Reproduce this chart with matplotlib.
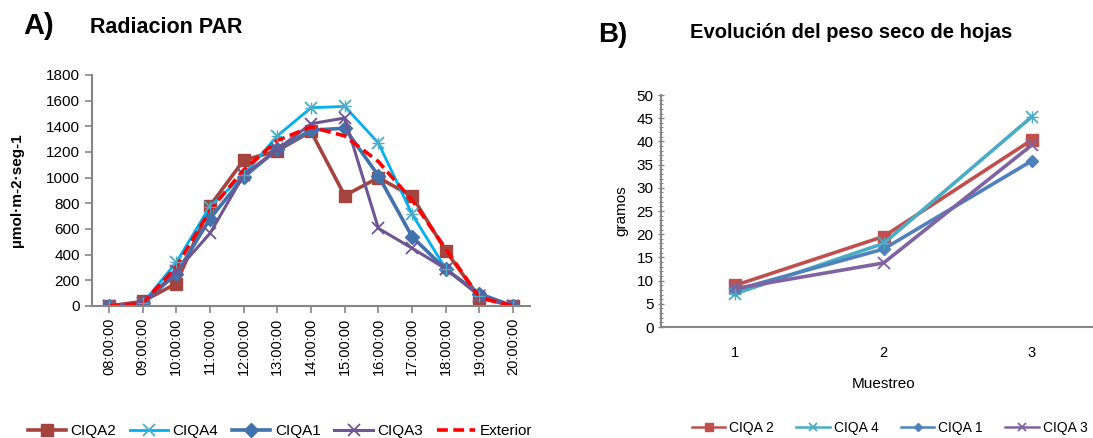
import matplotlib
matplotlib.use("Agg")
import matplotlib.pyplot as plt
from matplotlib.ticker import MultipleLocator

plt.rcParams["font.family"] = ["Liberation Sans", "DejaVu Sans"]

# Panel A: radiacion PAR
horas = ["08:00:00", "09:00:00", "10:00:00", "11:00:00", "12:00:00", "13:00:00", "14:00:00",
         "15:00:00", "16:00:00", "17:00:00", "18:00:00", "19:00:00", "20:00:00"]
ciqa2_par = [0, 35, 175, 780, 1135, 1210, 1360, 860, 1000, 855, 430, 65, 0]
ciqa4_par = [0, 20, 340, 775, 1020, 1325, 1545, 1555, 1270, 715, 290, 80, 0]
ciqa1_par = [0, 20, 250, 680, 1005, 1220, 1370, 1385, 1015, 540, 285, 95, 0]
ciqa3_par = [0, 20, 270, 565, 1020, 1220, 1420, 1465, 605, 450, 290, 80, 0]
exterior_par = [0, 20, 305, 745, 1060, 1290, 1395, 1325, 1125, 825, 445, 65, 0]

# Panel B: peso seco de hojas
muestreo = [1, 2, 3]
ciqa2_peso = [9.0, 19.5, 40.3]
ciqa4_peso = [7.2, 18.0, 45.3]
ciqa1_peso = [8.0, 16.8, 35.8]
ciqa3_peso = [8.3, 13.8, 39.2]

grey = "#868686"

fig = plt.figure(figsize=(10.93, 4.38), dpi=100)

# ---- A ----
ax1 = fig.add_axes([0.0842, 0.3014, 0.4007, 0.5274])
x = range(len(horas))
ax1.plot(x, ciqa2_par, color="#A5433F", lw=2.6, marker="s", ms=9, mec="#A5433F", label="CIQA2")
ax1.plot(x, ciqa4_par, color="#00B0F0", lw=2.0, marker="x", ms=9, mec="#4BACC6", mew=1.3, label="CIQA4")
ax1.plot(x, ciqa1_par, color="#4272AB", lw=2.6, marker="D", ms=7, label="CIQA1")
ax1.plot(x, ciqa3_par, color="#6F5592", lw=2.2, marker="x", ms=9, mew=1.3, label="CIQA3")
ax1.plot(x, exterior_par, color="#FF0000", lw=2.6, ls=(0, (3, 1.5)), label="Exterior")

# asterisk look for CIQA4
ax1.plot(x, ciqa4_par, ls="none", marker="+", ms=9, mec="#4BACC6", mew=1.0)

ax1.set_xlim(-0.5, len(horas) - 0.5)
ax1.set_ylim(0, 1800)
ax1.set_yticks(range(0, 1801, 200))
ax1.set_xticks(list(x))
ax1.set_xticklabels(horas, rotation=90, fontsize=10.5)
ax1.tick_params(axis="y", labelsize=11, color=grey, length=5, width=1.2)
ax1.tick_params(axis="x", color=grey, length=5, width=1.2)
ax1.set_ylabel("µmol·m-2·seg-1", fontsize=11, fontweight="bold", labelpad=16)
for s in ["top", "right"]:
    ax1.spines[s].set_visible(False)
for s in ["left", "bottom"]:
    ax1.spines[s].set_color(grey)
    ax1.spines[s].set_linewidth(1.5)

h1, l1 = ax1.get_legend_handles_labels()
fig.legend(h1, l1, loc="center", bbox_to_anchor=(0.256, 0.015), ncol=5, frameon=False,
           fontsize=11, handlelength=2.5, handletextpad=0.3, columnspacing=0.9,
           borderaxespad=0, borderpad=0)

fig.text(0.021, 0.94, "A)", fontsize=21, fontweight="bold", va="center")
fig.text(0.082, 0.937, "Radiacion PAR", fontsize=15.5, fontweight="bold", va="center")

# ---- B ----
ax2 = fig.add_axes([0.605, 0.2534, 0.4067, 0.5297])
ax2.plot(muestreo, ciqa2_peso, color="#C0504D", lw=2.6, marker="s", ms=8, label="CIQA 2")
ax2.plot(muestreo, ciqa4_peso, color="#4BACC6", lw=2.6, marker="x", ms=9, mew=1.3, label="CIQA 4")
ax2.plot(muestreo, ciqa1_peso, color="#4F81BD", lw=2.6, marker="D", ms=6, label="CIQA 1")
ax2.plot(muestreo, ciqa3_peso, color="#8064A2", lw=2.6, marker="x", ms=9, mew=1.3, label="CIQA 3")
ax2.plot(muestreo, ciqa4_peso, ls="none", marker="+", ms=9, mec="#4BACC6", mew=1.0)

ax2.set_xlim(0.5, 3.5)
ax2.set_ylim(0, 50)
ax2.set_xticks(muestreo)
ax2.yaxis.set_major_locator(MultipleLocator(5))
ax2.yaxis.set_minor_locator(MultipleLocator(1))
ax2.tick_params(axis="y", which="major", labelsize=11, color=grey, length=4, width=1.0, direction="inout")
ax2.tick_params(axis="y", which="minor", color=grey, length=3, width=0.8, direction="inout")
ax2.tick_params(axis="x", labelsize=10.5, length=0, pad=14)
ax2.set_ylabel("gramos", fontsize=11, labelpad=6)
ax2.set_xlabel("Muestreo", fontsize=11, labelpad=12)
for s in ["top", "right"]:
    ax2.spines[s].set_visible(False)
for s in ["left", "bottom"]:
    ax2.spines[s].set_color(grey)
    ax2.spines[s].set_linewidth(1.5)

h2, l2 = ax2.get_legend_handles_labels()
leg2 = fig.legend(h2[:4], l2[:4], loc="center", bbox_to_anchor=(0.814, 0.023), ncol=4, frameon=False,
                  fontsize=10, handlelength=2.4, handletextpad=0.3, columnspacing=1.6,
                  borderaxespad=0, borderpad=0, markerscale=0.7)
for line in leg2.get_lines():
    line.set_linewidth(1.8)

fig.text(0.547, 0.92, "B)", fontsize=20, fontweight="bold", va="center")
fig.text(0.631, 0.925, "Evolución del peso seco de hojas", fontsize=14.5, fontweight="bold", va="center")

fig.savefig("out.png", dpi=100)
